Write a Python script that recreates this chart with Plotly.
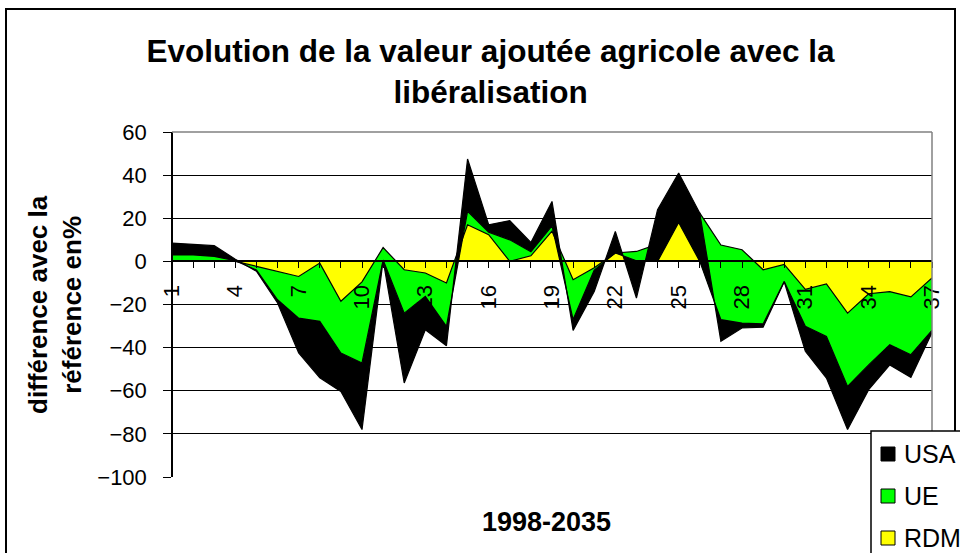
import plotly.graph_objects as go

# ---- data (stacked area series) ----
periods = list(range(1, 38))
tick_labels = [str(p) if (p - 1) % 3 == 0 else "" for p in periods]

rdm = [0, 0, 0, 0, -2.3, -4.8, -7, -0.8, -18.5, -9.5,
       6.4, -3.9, -5.4, -10, 17, 12.4, 0, 2.6, 14, -8.5,
       -3, 3.9, 4.6, 8, 18, 22.4, 7.6, 5.4, -3.9, -1.4,
       -13, -10.5, -24, -15, -14, -16.5, -7.7]
ue = [3, 3, 2.3, 0.3, -1.7, -13, -19.3, -27, -24, -37.6,
      -5.8, -20.1, -10.8, -20.1, 6.2, 1.1, 10, 1.9, 2.5, -18.5,
      -1, 0, -4.3, -8, 0, -22.4, -34.6, -34, -25.1, -7.9,
      -17.1, -24.3, -34, -33, -24.6, -26.8, -24.3]
usa = [5.5, 5, 5, 0.7, -0.6, -1.5, -16.2, -26.2, -17.8, -30.9,
       0, -32.4, -15.5, -9, 24.3, 3.5, 8.9, 4.3, 11.3, -5,
       -10, 10, -17.3, 24, 23, 22.4, -10, -2.3, -1.5, -0.2,
       -11.6, -19.3, -20, -11.5, -9.4, -10.5, -1]

series_names = ["USA", "UE", "RDM"]
series_colors = {"USA": "#000000", "UE": "#00FF00", "RDM": "#FFFF00"}
y_ticks = [-100, -80, -60, -40, -20, 0, 20, 40, 60]

FONT = "Liberation Sans, Arial, sans-serif"

# plot area in pixels: x 172..932, y 132..477
L, R, T, B = 172, 932, 132, 477


def px(xp):
    return (xp - L) / (R - L)


def py(yp):
    return (B - yp) / (B - T)


fig = go.Figure()
for name, vals in [("RDM", rdm), ("UE", ue), ("USA", usa)]:
    fig.add_trace(go.Scatter(
        x=periods, y=vals, name=name, stackgroup="s", mode="lines",
        line=dict(color="black", width=1.2), fillcolor=series_colors[name],
        showlegend=False, hoverinfo="x+y+name"))

shapes = [
    # plot-area border (grey, top and right)
    dict(type="line", xref="paper", yref="paper", x0=0, x1=1, y0=1, y1=1,
         line=dict(color="#808080", width=1.5), layer="above"),
    dict(type="line", xref="paper", yref="paper", x0=1, x1=1, y0=0, y1=1,
         line=dict(color="#808080", width=1.5), layer="above"),
    # outer chart frame
    dict(type="rect", xref="paper", yref="paper",
         x0=px(6), x1=px(955), y0=py(600), y1=py(9),
         line=dict(color="black", width=2), fillcolor="rgba(0,0,0,0)", layer="above"),
    # legend box
    dict(type="rect", xref="paper", yref="paper",
         x0=px(871), x1=px(990), y0=py(600), y1=py(431),
         line=dict(color="black", width=1.5), fillcolor="white", layer="above"),
]

annotations = [
    dict(text="différence avec la<br>référence en%", textangle=-90,
         xref="paper", yref="paper", x=px(55), y=py(305),
         xanchor="center", yanchor="middle", showarrow=False,
         font=dict(family=FONT, size=26, color="black", weight=700)),
    dict(text="1998-2035", xref="paper", yref="paper",
         x=px(546), y=py(522),
         xanchor="center", yanchor="middle", showarrow=False,
         font=dict(family=FONT, size=27, color="black", weight=700)),
]

# legend entries (square swatches + labels)
for i, name in enumerate(series_names):
    cy = 454 + 42 * i
    shapes.append(dict(type="rect", xref="paper", yref="paper",
                       x0=px(881), x1=px(895), y0=py(cy + 7), y1=py(cy - 7),
                       line=dict(color="black", width=1),
                       fillcolor=series_colors[name], layer="above"))
    annotations.append(dict(text=name, xref="paper", yref="paper",
                            x=px(902), y=py(cy), xanchor="left", yanchor="middle",
                            showarrow=False,
                            font=dict(family=FONT, size=25, color="black")))

fig.update_layout(
    width=960, height=553,
    margin=dict(l=L, r=960 - R, t=T, b=553 - B, autoexpand=False),
    paper_bgcolor="white", plot_bgcolor="white",
    font=dict(family=FONT, color="black", size=22),
    title=dict(text="Evolution de la valeur ajoutée agricole avec la<br>libéralisation",
               font=dict(family=FONT, size=31.5, color="black", weight=700),
               x=0.511, xanchor="center", xref="container",
               y=0.888, yanchor="top", yref="container"),
    showlegend=False,
    xaxis=dict(range=[1, 37], tickmode="array", tickvals=periods, ticktext=tick_labels,
               tickangle=-90, ticks="outside", ticklen=6, tickcolor="black", tickwidth=1,
               ticklabelstandoff=8,
               showline=True, linecolor="black", linewidth=1.5,
               showgrid=False, zeroline=False,
               anchor="free", position=100 / 160,
               tickfont=dict(family=FONT, size=22, color="black")),
    yaxis=dict(range=[-100, 60], tickmode="array", tickvals=y_ticks,
               ticks="outside", ticklen=8, tickcolor="black", tickwidth=1,
               ticklabelstandoff=12,
               showline=True, linecolor="black", linewidth=1.5,
               showgrid=True, gridcolor="black", gridwidth=1,
               zeroline=False, anchor="free", position=0,
               tickfont=dict(family=FONT, size=22, color="black")),
    annotations=annotations,
    shapes=shapes,
)

fig.write_html("out.html", config={"displayModeBar": False},
               post_script="document.body.style.margin='0px';")
